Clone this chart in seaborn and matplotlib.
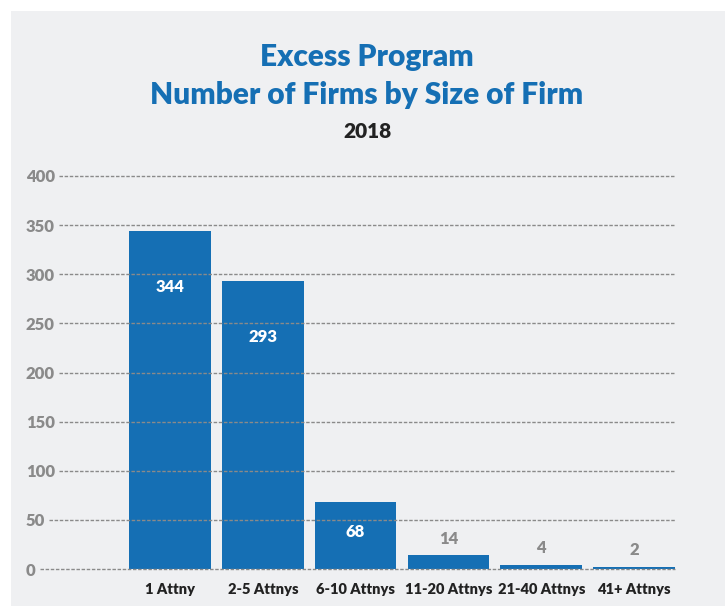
import matplotlib
matplotlib.use("Agg")
import matplotlib.pyplot as plt
import matplotlib.transforms as mtransforms
import seaborn as sns
import pandas as pd

# Firm size categories and number of firms (2018)
sizes = ["1 Attny", "2-5 Attnys", "6-10 Attnys", "11-20 Attnys", "21-40 Attnys", "41+ Attnys"]
firms = [344, 293, 68, 14, 4, 2]
y_ticks = [0, 50, 100, 150, 200, 250, 300, 350, 400]

df = pd.DataFrame({"Size": sizes, "Firms": firms})

BLUE = "#156fb4"
BG = "#eff0f2"
GRAY = "#8a8a8a"

sns.set_theme(style="white")
plt.rcParams["font.family"] = ["Lato", "DejaVu Sans"]

fig = plt.figure(figsize=(7.25, 6.06), dpi=100)
fig.patch.set_facecolor("white")
# gray panel behind the chart
fig.patches.append(plt.Rectangle((11 / 725, 0), 1, 1 - 11 / 606, transform=fig.transFigure,
                                 facecolor=BG, edgecolor="none", zorder=-10))

ax = fig.add_axes([26 / 725, 37 / 606, (675 - 26) / 725, (569 - 176) / 606])
ax.set_facecolor("none")

sns.barplot(data=df, x="Size", y="Firms", color=BLUE, width=0.88, saturation=1,
            linewidth=0, ax=ax, zorder=3)

ax.set_ylim(0, 400)
ax.set_xlim(-1.55, 5.44)
ax.set_yticks(y_ticks)
ax.set_xlabel("")
ax.set_ylabel("")
sns.despine(ax=ax, left=True, bottom=True)

ax.tick_params(axis="y", length=0, pad=0, labelsize=12, labelcolor=GRAY)
ax.tick_params(axis="x", length=0, pad=10, labelsize=10.5, labelcolor="#222222")
for lab in ax.get_yticklabels():
    lab.set_ha("left")
    lab.set_fontweight("heavy")
for lab in ax.get_xticklabels():
    lab.set_fontweight("heavy")

# value labels: inside for tall bars, above for short ones
for i, v in enumerate(firms):
    if v > 50:
        y = max(v - 57, v * 0.55)
        ax.text(i, y, str(v), ha="center", va="center", color="white",
                fontsize=12, fontweight="heavy", zorder=5)
    else:
        ax.annotate(str(v), (i, v), xytext=(0, 12), textcoords="offset points",
                    ha="center", va="center", color=GRAY, fontsize=12, fontweight="heavy")

# dashed gridlines that begin right after each tick label
fig.canvas.draw()
renderer = fig.canvas.get_renderer()
inv = ax.transAxes.inverted()
trans = mtransforms.blended_transform_factory(ax.transAxes, ax.transData)
for lab, t in zip(ax.get_yticklabels(), y_ticks):
    bb = lab.get_window_extent(renderer)
    x0 = inv.transform((bb.x1 + 4, 0))[0]
    ax.plot([x0, 1], [t, t], transform=trans, color=GRAY, lw=1.0,
            ls=(0, (2.5, 1.2)), zorder=4, clip_on=False)

cx = 367 / 725
fig.text(cx, 1 - 57 / 606, "Excess Program", ha="center", va="center",
         fontsize=21.5, fontweight="heavy", color=BLUE)
fig.text(cx, 1 - 95 / 606, "Number of Firms by Size of Firm", ha="center", va="center",
         fontsize=21.5, fontweight="heavy", color=BLUE)
fig.text(cx, 1 - 131 / 606, "2018", ha="center", va="center",
         fontsize=15, fontweight="heavy", color="#222222")

fig.savefig("out.png", dpi=100, facecolor=fig.get_facecolor())
